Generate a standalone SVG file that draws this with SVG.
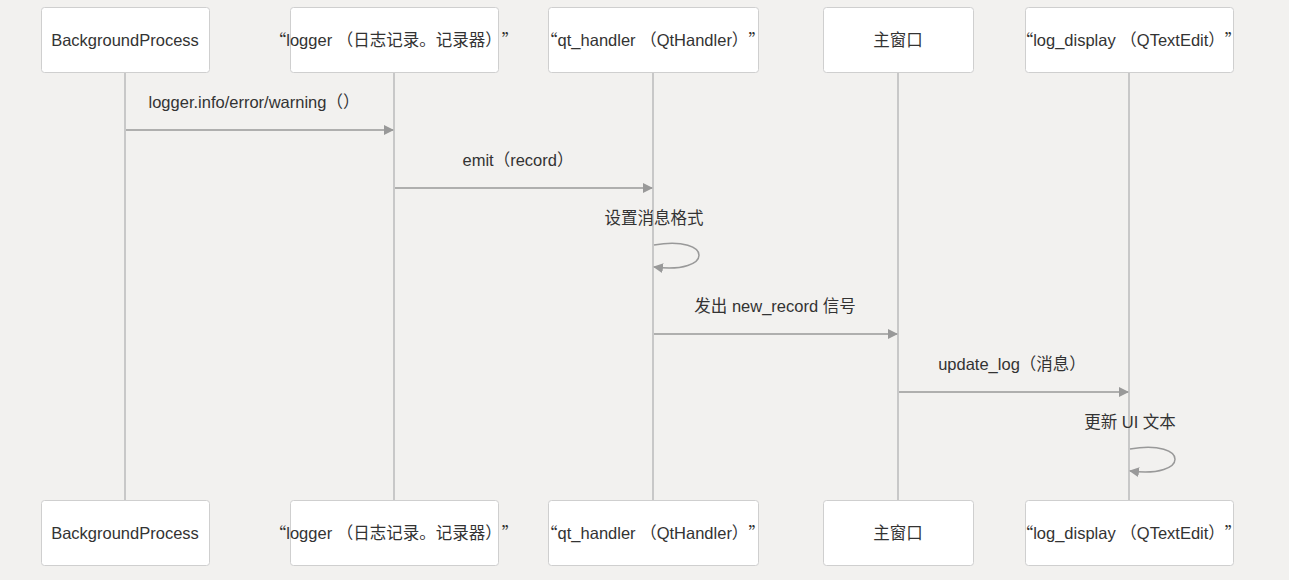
<svg xmlns="http://www.w3.org/2000/svg" width="1289" height="580" viewBox="0 0 1289 580">
<defs>
<style>
.bg{fill:#f2f1ef}
.box{fill:#ffffff;stroke:#cfcfcf;stroke-width:1}
.life{stroke:#c8c8c8;stroke-width:2;fill:none}
.msg{stroke:#999999;stroke-width:1.5;fill:none}
.t{font-family:"Liberation Sans","Noto Sans CJK SC",sans-serif;font-size:16.5px;fill:#333333;text-anchor:middle;dominant-baseline:central;text-spacing-trim:space-all}
.q{font-family:"Noto Sans CJK SC",sans-serif;font-feature-settings:"fwid" 1}
</style>
<marker id="ah" viewBox="0 0 10 10" refX="9" refY="5" markerWidth="10" markerHeight="10" markerUnits="userSpaceOnUse" orient="auto">
<path d="M0,0 L10,5 L0,10 Z" fill="#999999"/>
</marker>
</defs>
<rect class="bg" x="0" y="0" width="1289" height="580"/>
<g id="lifelines">
<line class="life" x1="125" y1="72" x2="125" y2="500"/>
<line class="life" x1="394" y1="72" x2="394" y2="500"/>
<line class="life" x1="653" y1="72" x2="653" y2="500"/>
<line class="life" x1="898" y1="72" x2="898" y2="500"/>
<line class="life" x1="1129" y1="72" x2="1129" y2="500"/>
</g>
<g id="BackgroundProcess">
<rect class="box" x="41.5" y="7.5" width="168" height="65" rx="3"/>
<text class="t" x="125" y="40">BackgroundProcess</text>
<rect class="box" x="41.5" y="500.5" width="168" height="65" rx="3"/>
<text class="t" x="125" y="533">BackgroundProcess</text>
</g>
<g id="logger">
<rect class="box" x="290.5" y="7.5" width="208" height="65" rx="3"/>
<text class="t" x="394" y="40"><tspan class="q">“</tspan>logger （日志记录。记录器）<tspan class="q">”</tspan></text>
<rect class="box" x="290.5" y="500.5" width="208" height="65" rx="3"/>
<text class="t" x="394" y="533"><tspan class="q">“</tspan>logger （日志记录。记录器）<tspan class="q">”</tspan></text>
</g>
<g id="qt_handler">
<rect class="box" x="548.5" y="7.5" width="210" height="65" rx="3"/>
<text class="t" x="653" y="40"><tspan class="q">“</tspan>qt_handler （QtHandler）<tspan class="q">”</tspan></text>
<rect class="box" x="548.5" y="500.5" width="210" height="65" rx="3"/>
<text class="t" x="653" y="533"><tspan class="q">“</tspan>qt_handler （QtHandler）<tspan class="q">”</tspan></text>
</g>
<g id="main_window">
<rect class="box" x="823.5" y="7.5" width="150" height="65" rx="3"/>
<text class="t" x="898" y="40">主窗口</text>
<rect class="box" x="823.5" y="500.5" width="150" height="65" rx="3"/>
<text class="t" x="898" y="533">主窗口</text>
</g>
<g id="log_display">
<rect class="box" x="1025.5" y="7.5" width="208" height="65" rx="3"/>
<text class="t" x="1129" y="40"><tspan class="q">“</tspan>log_display （QTextEdit）<tspan class="q">”</tspan></text>
<rect class="box" x="1025.5" y="500.5" width="208" height="65" rx="3"/>
<text class="t" x="1129" y="533"><tspan class="q">“</tspan>log_display （QTextEdit）<tspan class="q">”</tspan></text>
</g>
<g id="connectors">
<line class="msg" x1="126" y1="130" x2="393" y2="130" marker-end="url(#ah)"/>
<text class="t" x="254" y="102">logger.info/error/warning（）</text>
<line class="msg" x1="395" y1="188" x2="652" y2="188" marker-end="url(#ah)"/>
<text class="t" x="518" y="160">emit（record）</text>
<path class="msg" d="M654,245 C714,235 714,275 654,267" marker-end="url(#ah)"/>
<text class="t" x="654" y="218">设置消息格式</text>
<line class="msg" x1="654" y1="334" x2="897" y2="334" marker-end="url(#ah)"/>
<text class="t" x="775" y="306">发出 new_record 信号</text>
<line class="msg" x1="899" y1="392" x2="1128" y2="392" marker-end="url(#ah)"/>
<text class="t" x="1012" y="364">update_log（消息）</text>
<path class="msg" d="M1130,449 C1190,439 1190,479 1130,471" marker-end="url(#ah)"/>
<text class="t" x="1130" y="422">更新 UI 文本</text>
</g>
</svg>
